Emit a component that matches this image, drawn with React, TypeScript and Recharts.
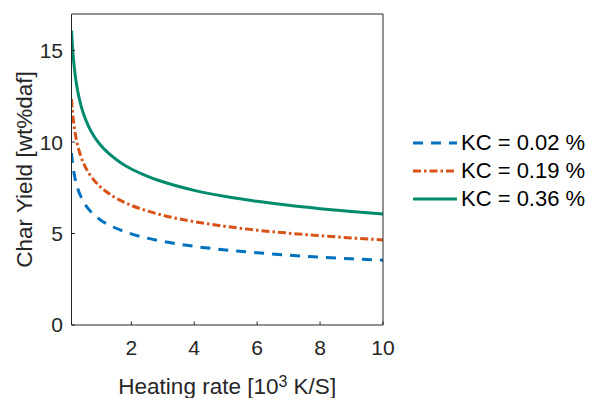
import React from "react";
import { LineChart, Line, XAxis, YAxis, Legend, Label } from "recharts";

const heatingRate = [0.1, 0.13, 0.17, 0.22, 0.3, 0.4, 0.5, 0.65, 0.8, 1, 1.3, 1.7, 2, 2.5, 3, 4, 5, 6, 7, 8, 9, 10];
const kc002 = [9.4, 8.89, 8.4, 7.95, 7.45, 7.01, 6.68, 6.32, 6.05, 5.77, 5.46, 5.16, 4.98, 4.75, 4.57, 4.3, 4.1, 3.95, 3.82, 3.71, 3.62, 3.54];
const kc019 = [12.35, 11.68, 11.04, 10.45, 9.78, 9.21, 8.78, 8.31, 7.95, 7.58, 7.17, 6.77, 6.54, 6.24, 6.0, 5.65, 5.39, 5.18, 5.02, 4.88, 4.76, 4.65];
const kc036 = [16.1, 15.23, 14.39, 13.62, 12.76, 12.0, 11.45, 10.83, 10.36, 9.88, 9.35, 8.83, 8.53, 8.14, 7.83, 7.36, 7.02, 6.76, 6.54, 6.36, 6.2, 6.07];

const xTicks = [2, 4, 6, 8, 10];
const yTicks = [0, 5, 10, 15];
const xDomain = [0.1, 10];
const yDomain = [0, 17];

const seriesNames = ["KC = 0.02 %", "KC = 0.19 %", "KC = 0.36 %"];
const seriesKeys = ["kc002", "kc019", "kc036"];
const seriesColors = ["#0072bd", "#d95319", "#008a6e"];
const seriesDash = ["10 8", "8 3 2.5 3", undefined];

const data = heatingRate.map((x, i) => ({
  x,
  kc002: kc002[i],
  kc019: kc019[i],
  kc036: kc036[i],
}));

const FONT = "'Liberation Sans', Arial, Helvetica, sans-serif";
const AX = "#262626";

const LegendContent = () => (
  <div style={{ fontFamily: FONT, fontSize: 22, color: "#000" }}>
    {seriesNames.map((n, i) => (
      <div key={n} style={{ display: "flex", alignItems: "center", height: 28, lineHeight: "28px", whiteSpace: "nowrap" }}>
        <svg width={48} height={28} style={{ display: "block" }}>
          <line x1={0} y1={14} x2={44} y2={14} stroke={seriesColors[i]} strokeWidth={3} strokeDasharray={seriesDash[i]} />
        </svg>
        <span>{n}</span>
      </div>
    ))}
  </div>
);

export default function App() {
  return (
    <div style={{ position: "absolute", left: 0, top: 0 }}>
      <LineChart width={592} height={398} data={data} margin={{ top: 14, right: 209, bottom: 0, left: 0 }}>
        <XAxis
          dataKey="x"
          type="number"
          domain={xDomain}
          ticks={xTicks}
          interval={0}
          height={73}
          allowDataOverflow
          stroke={AX}
          tickSize={-3.5}
          tickMargin={18.5}
          tick={{ fill: AX, fontSize: 21, fontFamily: FONT }}
        >
          <Label
            content={(props: any) => {
              const vb = props.viewBox || {};
              const cx = vb.x + vb.width / 2;
              const by = vb.y + 69;
              return (
                <text x={cx} y={by} textAnchor="middle" fill={AX} fontSize={22.5} fontFamily={FONT}>
                  <tspan>Heating rate [10</tspan>
                  <tspan dy={-7.5} fontSize={16}>3</tspan>
                  <tspan dy={7.5}> K/S]</tspan>
                </text>
              );
            }}
          />
        </XAxis>
        <XAxis
          xAxisId="top"
          orientation="top"
          dataKey="x"
          type="number"
          domain={xDomain}
          ticks={xTicks}
          interval={0}
          height={1}
          mirror
          allowDataOverflow
          stroke={AX}
          tickSize={3.5}
          tick={false}
        />
        <YAxis
          type="number"
          domain={yDomain}
          ticks={yTicks}
          interval={0}
          width={71.5}
          allowDataOverflow
          stroke={AX}
          tickSize={-3.5}
          tickMargin={12}
          tick={{ fill: AX, fontSize: 21, fontFamily: FONT }}
        >
          <Label
            content={(props: any) => {
              const vb = props.viewBox || {};
              const cy = vb.y + vb.height / 2;
              const bx = 32;
              return (
                <text
                  x={bx}
                  y={cy}
                  textAnchor="middle"
                  transform={`rotate(-90, ${bx}, ${cy})`}
                  fill={AX}
                  fontSize={22.5}
                  fontFamily={FONT}
                >
                  Char Yield [wt%daf]
                </text>
              );
            }}
          />
        </YAxis>
        <YAxis
          yAxisId="right"
          orientation="right"
          type="number"
          domain={yDomain}
          ticks={yTicks}
          interval={0}
          width={1}
          mirror
          allowDataOverflow
          stroke={AX}
          tickSize={3.5}
          tick={false}
        />
        <Legend
          layout="horizontal"
          verticalAlign="middle"
          align="center"
          content={LegendContent}
          wrapperStyle={{ left: 413, top: 129, width: 180, height: 90 }}
        />
        {seriesKeys.map((k, i) => (
          <Line
            key={k}
            dataKey={k}
            name={seriesNames[i]}
            type="monotone"
            stroke={seriesColors[i]}
            strokeWidth={3}
            strokeDasharray={seriesDash[i]}
            dot={false}
            activeDot={false}
            isAnimationActive={false}
          />
        ))}
      </LineChart>
    </div>
  );
}
